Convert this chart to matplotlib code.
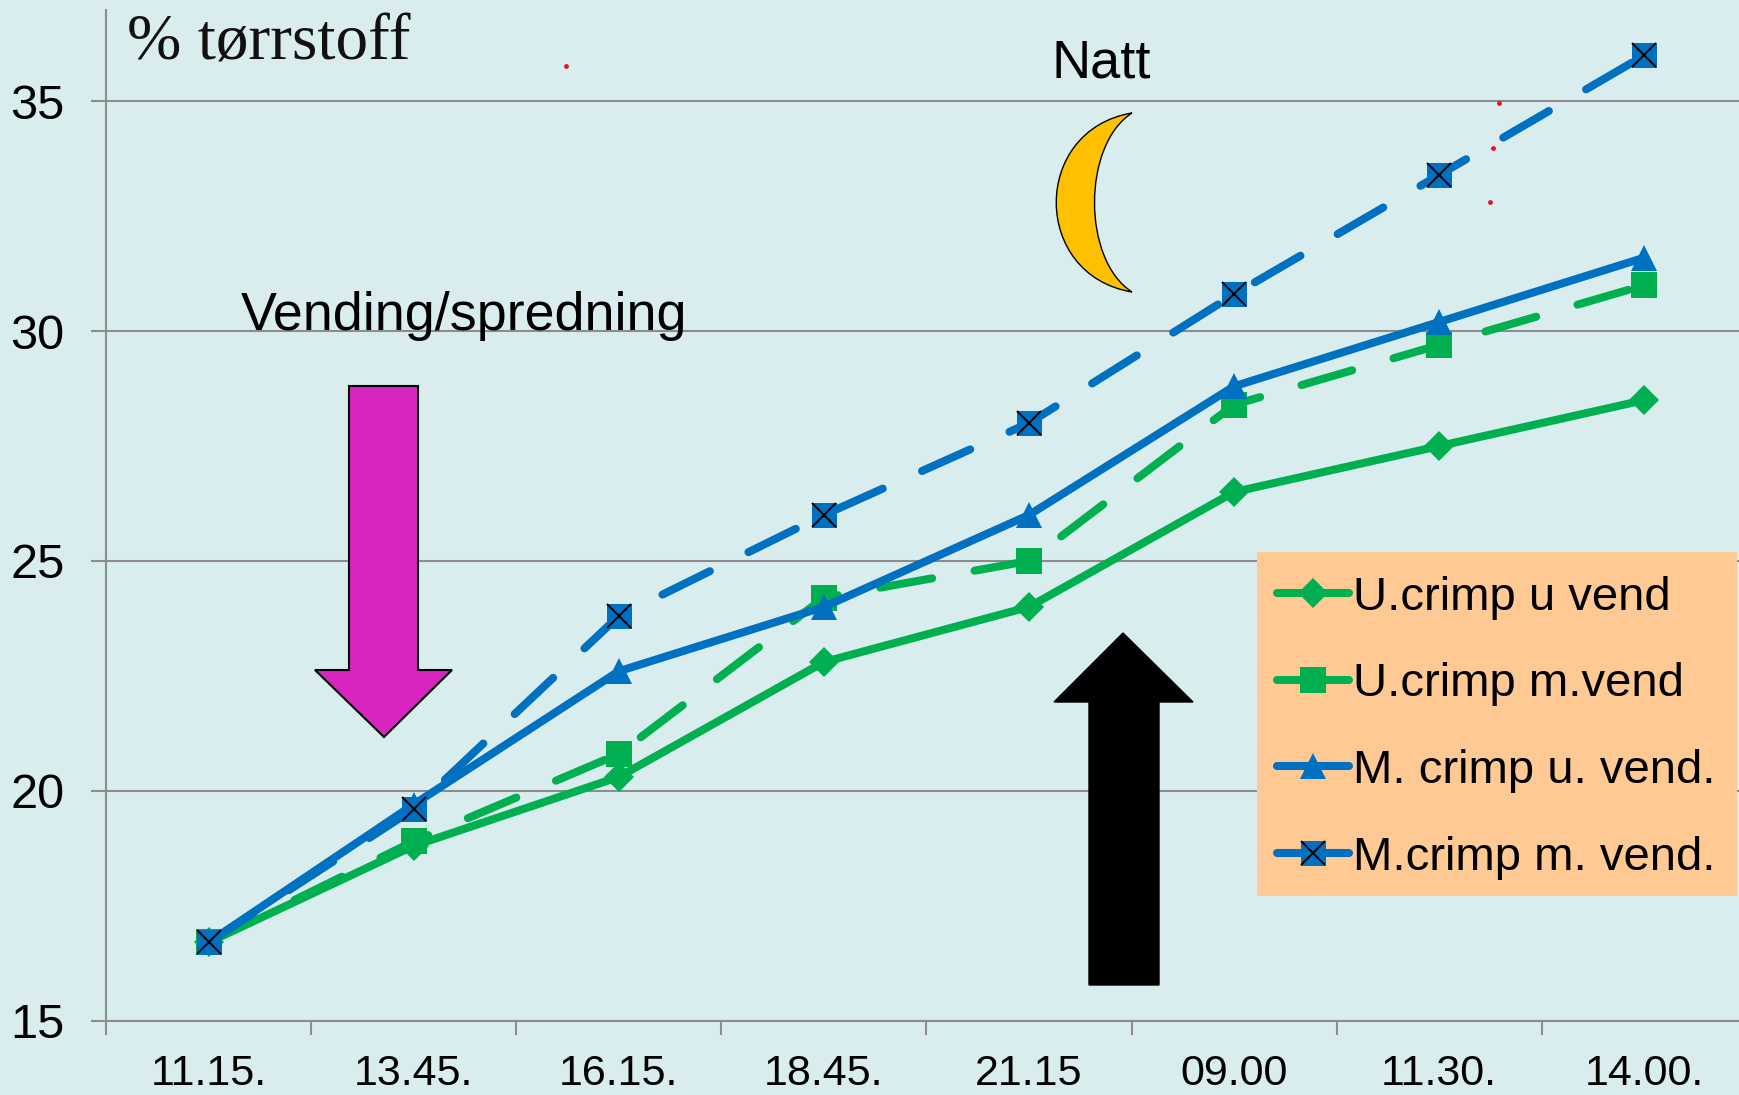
import matplotlib
matplotlib.use('Agg')
import matplotlib.pyplot as plt
import numpy as np
from matplotlib.legend_handler import HandlerTuple
from matplotlib.lines import Line2D
from matplotlib.patches import PathPatch, Polygon, Rectangle
from matplotlib.path import Path

plt.rcParams['font.family'] = ['Liberation Sans', 'DejaVu Sans']
plt.rcParams['lines.scale_dashes'] = False

times = ['11.15.', '13.45.', '16.15.', '18.45.', '21.15', '09.00', '11.30.', '14.00.']
u_crimp_u_vend = [16.7, 18.8, 20.3, 22.8, 24.0, 26.5, 27.5, 28.5]
u_crimp_m_vend = [16.7, 18.9, 20.8, 24.2, 25.0, 28.4, 29.7, 31.0]
m_crimp_u_vend = [16.7, 19.7, 22.6, 24.0, 26.0, 28.8, 30.2, 31.6]
m_crimp_m_vend = [16.7, 19.6, 23.8, 26.0, 28.0, 30.8, 33.4, 36.0]
y_ticks = [15, 20, 25, 30, 35]

GREEN = '#00B050'
BLUE = '#0070C0'
GREY = '#8C8C8C'
BG = '#DAEDEE'
W, H = 1739, 1095


# pixel position in the picture -> figure fraction
def fx(x):
    return x / W


def fy(y):
    return 1 - y / H


def pts(*xy):
    return [(fx(x), fy(y)) for x, y in xy]


fig = plt.figure(figsize=(W / 100, H / 100), dpi=100, facecolor=BG)
ax = fig.add_axes([fx(106), fy(1020.5), 8 * 205.1 / W, 1011 / H], facecolor=BG)

x = np.arange(len(times)) + 0.5
dash = (0, (38, 31))
lw = 5.8

ax.plot(x, u_crimp_u_vend, color=GREEN, lw=lw, marker='D', ms=15, mew=0, clip_on=False)
ax.plot(x, u_crimp_m_vend, color=GREEN, lw=lw, ls=dash, dash_capstyle='round', marker='s', ms=18.5, mew=0, clip_on=False)
ax.plot(x, m_crimp_u_vend, color=BLUE, lw=lw, marker='^', ms=18.5, mew=0, clip_on=False)
ax.plot(x, m_crimp_m_vend, color=BLUE, lw=lw, ls=dash, dash_capstyle='round', marker='s', ms=18, mew=0, clip_on=False)
ax.plot(x, m_crimp_m_vend, color='black', ls='none', marker='x', ms=17, mew=1.4, clip_on=False)

ax.set_xlim(0, 8)
ax.set_ylim(15, 37)
ax.set_xticks(np.arange(0, 9))
ax.set_xticklabels([])
ax.set_xticks(x, labels=times, minor=True)
ax.set_yticks(y_ticks)
ax.tick_params(axis='x', which='major', length=10, width=1.5, color=GREY)
ax.tick_params(axis='x', which='minor', length=0, pad=24, labelsize=31)
ax.tick_params(axis='y', length=11, width=1.5, color=GREY, pad=19, labelsize=35)
ax.yaxis.grid(True, color=GREY, lw=1.5)
ax.set_axisbelow(True)
for side in ['top', 'right']:
    ax.spines[side].set_visible(False)
for side in ['left', 'bottom']:
    ax.spines[side].set_color(GREY)
    ax.spines[side].set_linewidth(1.5)

# legend
(lx, ly) = pts((1257, 896))[0]
fig.add_artist(Rectangle((lx, ly), 480 / W, 344 / H, transform=fig.transFigure, facecolor='#FFC993', edgecolor='none', zorder=5))
handles = [
    Line2D([], [], color=GREEN, lw=lw, solid_capstyle='round', marker='D', ms=15, mew=0),
    Line2D([], [], color=GREEN, lw=lw, solid_capstyle='round', marker='s', ms=18.5, mew=0),
    Line2D([], [], color=BLUE, lw=lw, solid_capstyle='round', marker='^', ms=18.5, mew=0),
    (Line2D([], [], color=BLUE, lw=lw, solid_capstyle='round', marker='s', ms=18, mew=0),
     Line2D([], [], color='black', ls='none', marker='x', ms=17, mew=1.4)),
]
labels = ['U.crimp u vend', 'U.crimp m.vend', 'M. crimp u. vend.', 'M.crimp m. vend.']
leg = fig.legend(handles, labels, loc='upper left', bbox_to_anchor=(fx(1277), fy(576)),
                 bbox_transform=fig.transFigure, frameon=False, fontsize=34, borderpad=0,
                 borderaxespad=0, handlelength=1.52, handletextpad=0.08, labelspacing=0.9,
                 handler_map={tuple: HandlerTuple(ndivide=1, pad=0)})
leg.set_zorder(6)

# arrows and moon
fig.add_artist(Polygon(pts((349, 386), (418, 386), (418, 670), (452, 670), (384, 737), (315, 670), (349, 670)),
                       transform=fig.transFigure, facecolor='#D725BF', edgecolor='black', lw=1.5, zorder=4))
fig.add_artist(Polygon(pts((1089, 985), (1159, 985), (1159, 702), (1193, 702), (1123, 633), (1054, 702), (1089, 702)),
                       transform=fig.transFigure, facecolor='black', edgecolor='black', lw=1, zorder=4))
moon = pts((1132, 113), (1031, 130), (1031, 275), (1132, 292), (1082, 260), (1082, 145), (1132, 113))
moon_codes = [Path.MOVETO, Path.CURVE4, Path.CURVE4, Path.CURVE4, Path.CURVE4, Path.CURVE4, Path.CURVE4]
fig.add_artist(PathPatch(Path(moon, moon_codes), transform=fig.transFigure, facecolor='#FFC000',
                         edgecolor='black', lw=1, zorder=4))

# small red specks on the slide
red_x, red_y = zip(*pts((566, 66), (1499, 103), (1493, 148), (1490, 202)))
fig.add_artist(Line2D(red_x, red_y, transform=fig.transFigure, ls='none', marker='o', ms=3.5, mew=0, color='#E8112D'))

fig.text(fx(127), fy(60), '% tørrstoff', family=['Liberation Serif', 'DejaVu Serif'], fontsize=47, color='#111111')
fig.text(fx(241), fy(330), 'Vending/spredning', fontsize=38.8)
fig.text(fx(1052), fy(77), 'Natt', fontsize=39)

fig.savefig('out.png', dpi=100, facecolor=BG)
